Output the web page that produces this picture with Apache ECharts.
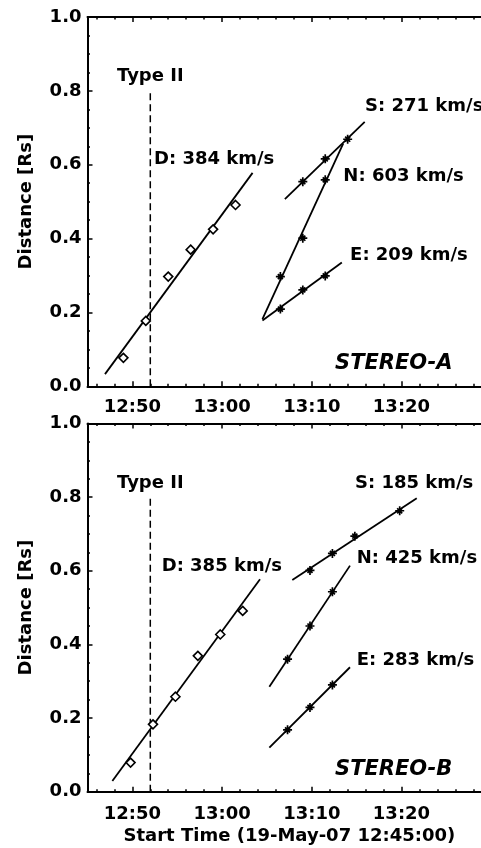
<!DOCTYPE html>
<html>
<head>
<meta charset="utf-8">
<script src="https://cdn.jsdelivr.net/npm/echarts@6/dist/echarts.min.js"></script>
<style>
  html, body { margin: 0; padding: 0; background: #fff; }
  #chart { width: 481px; height: 848px; }
</style>
</head>
<body>
<div id="chart"></div>
<script>
// time = minutes after 12:45:00, distance in Rs
// STEREO-A
const aDTime = [4.0, 6.5, 9.0, 11.5, 14.0, 16.5];
const aDDist = [0.077, 0.177, 0.297, 0.370, 0.425, 0.491];
const aSTime = [24.0, 26.5, 29.0];
const aSDist = [0.554, 0.616, 0.669];
const aNTime = [21.5, 24.0, 26.5];
const aNDist = [0.297, 0.401, 0.559];
const aETime = [21.5, 24.0, 26.5];
const aEDist = [0.209, 0.261, 0.299];
const aDFitTime = [1.95, 18.4];
const aDFitDist = [0.033, 0.578];
const aSFitTime = [22.0, 30.9];
const aSFitDist = [0.507, 0.716];
const aNFitTime = [19.5, 28.5];
const aNFitDist = [0.182, 0.657];
const aEFitTime = [19.5, 28.35];
const aEFitDist = [0.178, 0.335];
const aLabelText = ['D: 384 km/s', 'S: 271 km/s', 'N: 603 km/s', 'E: 209 km/s'];
const aLabelTime = [7.41, 30.94, 28.52, 29.27];
const aLabelDist = [0.615, 0.757, 0.568, 0.356];

// STEREO-B
const bDTime = [4.8, 7.3, 9.8, 12.3, 14.8, 17.3];
const bDDist = [0.079, 0.183, 0.258, 0.369, 0.427, 0.491];
const bSTime = [24.8, 27.3, 29.8, 34.8];
const bSDist = [0.601, 0.647, 0.694, 0.763];
const bNTime = [22.3, 24.8, 27.3];
const bNDist = [0.360, 0.450, 0.543];
const bETime = [22.3, 24.8, 27.3];
const bEDist = [0.168, 0.229, 0.290];
const bDFitTime = [2.77, 19.23];
const bDFitDist = [0.029, 0.577];
const bSFitTime = [22.83, 36.7];
const bSFitDist = [0.575, 0.797];
const bNFitTime = [20.27, 29.26];
const bNFitDist = [0.285, 0.614];
const bEFitTime = [20.27, 29.26];
const bEFitDist = [0.120, 0.338];
const bLabelText = ['D: 385 km/s', 'S: 185 km/s', 'N: 425 km/s', 'E: 283 km/s'];
const bLabelTime = [8.27, 29.82, 30.01, 30.01];
const bLabelDist = [0.611, 0.838, 0.634, 0.358];

// type II burst onset (12:52) and label
const typeIITime = 7.0;
const typeIITop = 0.8;
const typeIILabelDist = 0.838;

const panelNames = ['STEREO-A', 'STEREO-B'];
const panelNameTime = [27.59, 27.59];
const panelNameDist = [0.062, 0.059];

// axis ticks (minutes after 12:45)
const xMajorTicks = [5, 15, 25, 35, 45];
const xLabelTicks = [5, 15, 25, 35];
const xMinorTicks = [1, 3, 5, 7, 9, 11, 13, 15, 17, 19, 21, 23, 25, 27, 29, 31, 33, 35, 37, 39, 41, 43, 45];

const FONT = 'DejaVu Sans';
const zip = (xs, ys) => xs.map((x, i) => [x, ys[i]]);
const hhmm = v => {
  const t = 12 * 60 + 45 + v;
  const h = Math.floor(t / 60);
  const m = t % 60;
  return h + ':' + (m < 10 ? '0' : '') + m;
};

const chart = echarts.init(document.getElementById('chart'));

const lineBlack = { color: '#000', width: 1.5 };
const grids = [
  { left: 87.5, top: 17, right: -10.2, height: 369.3, outerBoundsMode: 'none' },
  { left: 87.5, top: 423.5, right: -10.2, height: 368.2, outerBoundsMode: 'none' }
];

let xAxes = [];
let yAxes = [];
[0, 1].forEach(g => {
  const base = { type: 'value', gridIndex: g, min: 0, max: 45, splitLine: { show: false } };
  // bottom, with labels
  xAxes.push(Object.assign({}, base, {
    position: 'bottom',
    axisLine: { show: true, onZero: false, lineStyle: { color: '#000', width: 2 } },
    axisTick: { show: true, inside: true, length: 5, customValues: xMajorTicks, lineStyle: lineBlack },
    axisLabel: {
      show: true, customValues: xLabelTicks, formatter: hhmm, margin: g === 0 ? 12 : 14,
      color: '#000', fontFamily: FONT, fontWeight: 'bold', fontSize: 18
    },
    name: g === 1 ? 'Start Time (19-May-07 12:45:00)' : '',
    nameLocation: 'middle',
    nameGap: 36,
    nameTextStyle: { color: '#000', fontFamily: FONT, fontWeight: 'bold', fontSize: 18 }
  }));
  // top frame
  xAxes.push(Object.assign({}, base, {
    position: 'top',
    axisLine: { show: true, onZero: false, lineStyle: { color: '#000', width: 2 } },
    axisTick: { show: true, inside: true, length: 5, customValues: xMajorTicks, lineStyle: lineBlack },
    axisLabel: { show: false }
  }));
  // minor ticks, bottom and top
  ['bottom', 'top'].forEach(p => {
    xAxes.push(Object.assign({}, base, {
      position: p,
      axisLine: { show: false },
      axisTick: { show: true, inside: true, length: 2.5, customValues: xMinorTicks, lineStyle: lineBlack },
      axisLabel: { show: false }
    }));
  });
  yAxes.push({
    type: 'value', gridIndex: g, min: 0, max: 1, interval: 0.2, position: 'left',
    splitLine: { show: false },
    axisLine: { show: true, onZero: false, lineStyle: { color: '#000', width: 2 } },
    axisTick: { show: true, inside: true, length: 5, lineStyle: lineBlack },
    minorTick: { show: true, splitNumber: 4, length: 2.5, lineStyle: lineBlack },
    axisLabel: {
      formatter: v => v.toFixed(1), margin: 6,
      color: '#000', fontFamily: FONT, fontWeight: 'bold', fontSize: 18
    },
    name: 'Distance [Rs]',
    nameLocation: 'middle',
    nameGap: 52,
    nameTextStyle: { color: '#000', fontFamily: FONT, fontWeight: 'bold', fontSize: 18 }
  });
});

const starPath = 'path://M0 5L10 5M5 0L5 10M2.2 2.2L7.8 7.8M2.2 7.8L7.8 2.2';

function panelSeries(g, d) {
  const xi = g * 4;
  const common = { xAxisIndex: xi, yAxisIndex: g, silent: true, animation: false };
  const fit = (xs, ys) => Object.assign({
    type: 'line', data: zip(xs, ys), symbol: 'none',
    lineStyle: { color: '#000', width: 1.8 }
  }, common);
  const stars = (xs, ys) => Object.assign({
    type: 'scatter', data: zip(xs, ys), symbol: starPath, symbolSize: 9,
    itemStyle: { color: '#000', borderColor: '#000', borderWidth: 1.7, opacity: 1 }, z: 5
  }, common);
  const textStyle = { color: '#000', fontFamily: FONT, fontWeight: 'bold', fontSize: 18 };
  const textItem = { color: 'none', opacity: 1 };
  return [
    Object.assign({
      type: 'line', data: [[typeIITime, 0], [typeIITime, typeIITop]], symbol: 'none',
      lineStyle: { color: '#000', width: 1.5, type: [7, 4] }
    }, common),
    fit(d.dFitT, d.dFitR),
    fit(d.sFitT, d.sFitR),
    fit(d.nFitT, d.nFitR),
    fit(d.eFitT, d.eFitR),
    Object.assign({
      type: 'scatter', data: zip(d.dT, d.dR), symbol: 'diamond', symbolSize: 9,
      itemStyle: { color: '#fff', borderColor: '#000', borderWidth: 1.6, opacity: 1 }, z: 5
    }, common),
    stars(d.sT, d.sR),
    stars(d.nT, d.nR),
    stars(d.eT, d.eR),
    // text annotations
    Object.assign({
      type: 'scatter', symbolSize: 0, z: 6, itemStyle: textItem,
      data: d.labT.map((t, i) => ({ value: [t, d.labR[i]], name: d.labText[i] })),
      label: { show: true, position: 'right', distance: 0, formatter: p => p.name, ...textStyle }
    }, common),
    Object.assign({
      type: 'scatter', symbolSize: 0, z: 6, itemStyle: textItem,
      data: [{ value: [typeIITime, typeIILabelDist], name: 'Type II' }],
      label: { show: true, position: 'inside', formatter: p => p.name, ...textStyle }
    }, common),
    Object.assign({
      type: 'scatter', symbolSize: 0, z: 6, itemStyle: textItem,
      data: [{ value: [panelNameTime[g], panelNameDist[g]], name: panelNames[g] }],
      label: {
        show: true, position: 'right', distance: 0, formatter: p => p.name,
        ...textStyle, fontStyle: 'italic', fontSize: 21
      }
    }, common)
  ];
}

const series = [].concat(
  panelSeries(0, {
    dT: aDTime, dR: aDDist, sT: aSTime, sR: aSDist, nT: aNTime, nR: aNDist, eT: aETime, eR: aEDist,
    dFitT: aDFitTime, dFitR: aDFitDist, sFitT: aSFitTime, sFitR: aSFitDist,
    nFitT: aNFitTime, nFitR: aNFitDist, eFitT: aEFitTime, eFitR: aEFitDist,
    labText: aLabelText, labT: aLabelTime, labR: aLabelDist
  }),
  panelSeries(1, {
    dT: bDTime, dR: bDDist, sT: bSTime, sR: bSDist, nT: bNTime, nR: bNDist, eT: bETime, eR: bEDist,
    dFitT: bDFitTime, dFitR: bDFitDist, sFitT: bSFitTime, sFitR: bSFitDist,
    nFitT: bNFitTime, nFitR: bNFitDist, eFitT: bEFitTime, eFitR: bEFitDist,
    labText: bLabelText, labT: bLabelTime, labR: bLabelDist
  })
);

chart.setOption({
  backgroundColor: '#fff',
  animation: false,
  grid: grids,
  xAxis: xAxes,
  yAxis: yAxes,
  series: series
});
</script>
</body>
</html>
